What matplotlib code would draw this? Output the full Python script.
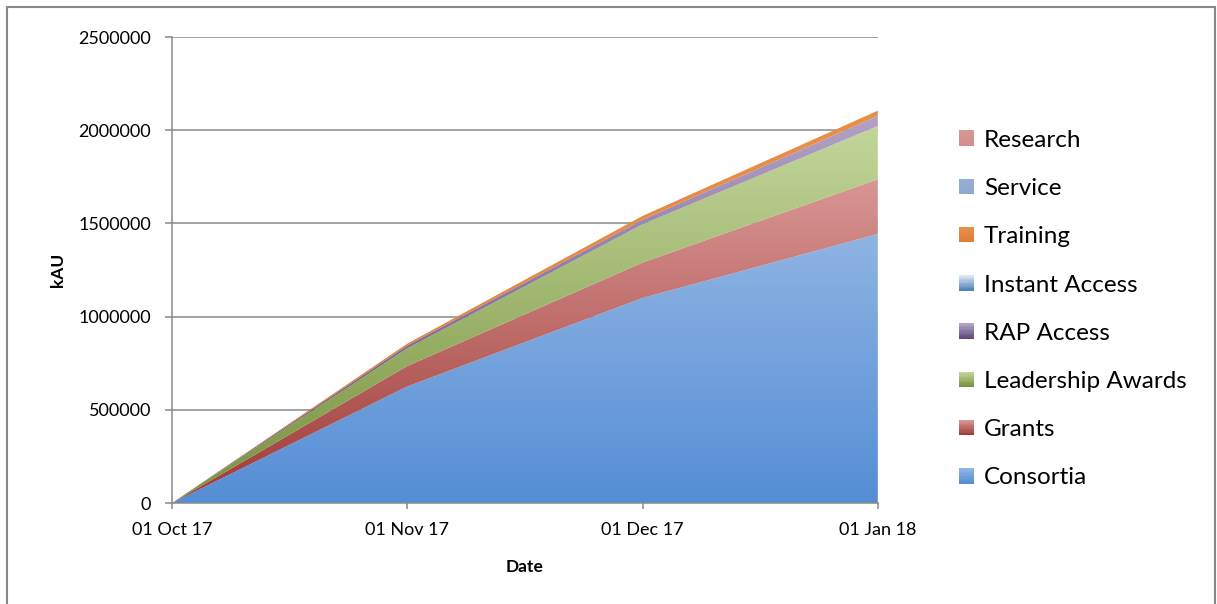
import numpy as np
import matplotlib
matplotlib.use("Agg")
import matplotlib.pyplot as plt
from matplotlib.colors import LinearSegmentedColormap
from matplotlib.legend_handler import HandlerBase
from matplotlib.patches import Rectangle

plt.rcParams["font.family"] = ["Lato", "DejaVu Sans"]

dates = ["01 Oct 17", "01 Nov 17", "01 Dec 17", "01 Jan 18"]

# cumulative kAU used per allocation type (bottom of the stack first)
consortia = [0, 625000, 1100000, 1443000]
grants = [0, 110000, 190000, 294000]
leadership = [0, 95000, 205000, 286000]
rap_access = [0, 15000, 25000, 54000]
instant_access = [0, 0, 0, 0]
training = [0, 10000, 20000, 28000]
service = [0, 0, 0, 0]
research = [0, 0, 0, 0]

series = [
    ("Consortia", consortia, "#8EB4E3", "#558ED5"),
    ("Grants", grants, "#D99694", "#9E3B38"),
    ("Leadership Awards", leadership, "#C3D69B", "#76923C"),
    ("RAP Access", rap_access, "#B3A2C7", "#5F497A"),
    ("Instant Access", instant_access, "#DCE6F2", "#4F81BD"),
    ("Training", training, "#E8904A", "#E07B39"),
    ("Service", service, "#95AED4", "#8FA8D0"),
    ("Research", research, "#D99694", "#D38E8C"),
]


class GradientHandler(HandlerBase):
    def __init__(self, top, bottom):
        super().__init__()
        self.top = top
        self.bottom = bottom

    def create_artists(self, legend, orig_handle, xdescent, ydescent,
                       width, height, fontsize, trans):
        cmap = LinearSegmentedColormap.from_list("h", [self.bottom, self.top])
        n = 12
        size = 11
        x0 = -xdescent + (width - size)
        y0 = -ydescent + (height - size) / 2
        artists = []
        for i in range(n):
            r = Rectangle((x0, y0 + size * i / n), size, size / n + 0.2,
                          facecolor=cmap(i / (n - 1)), edgecolor="none",
                          transform=trans)
            artists.append(r)
        return artists


fig = plt.figure(figsize=(12.17, 6.04), dpi=100)
ax = fig.add_axes([0.1413, 0.1672, 0.58, 0.7715])

x = np.arange(len(dates))
base = np.zeros(len(dates))
handles = []
handler_map = {}
for i, (name, vals, top, bottom) in enumerate(series):
    upper = base + np.array(vals)
    poly = ax.fill_between(x, base, upper, facecolor="none", edgecolor="none")
    if np.any(upper > base):
        cmap = LinearSegmentedColormap.from_list(name, [bottom, top])
        grad = np.linspace(0, 1, 256).reshape(-1, 1)
        im = ax.imshow(grad, cmap=cmap, aspect="auto", origin="lower",
                       extent=[x[0], x[-1], 0, upper.max()], zorder=2 + i * 0.01)
        im.set_clip_path(poly.get_paths()[0], transform=ax.transData)
    h = Rectangle((0, 0), 1, 1, label=name)
    handles.append(h)
    handler_map[h] = GradientHandler(top, bottom)
    base = upper

ax.set_xlim(x[0], x[-1])
ax.set_ylim(0, 2500000)
ax.set_yticks(np.arange(0, 2500001, 500000))
ax.yaxis.set_major_formatter(plt.FuncFormatter(lambda v, p: f"{int(v)}"))
ax.set_xticks(x)
ax.set_xticklabels(dates)

ax.grid(axis="y", color="#898989", linewidth=1.1, zorder=1)
ax.set_axisbelow(True)
for side in ["top", "right"]:
    ax.spines[side].set_visible(False)
for side in ["left", "bottom"]:
    ax.spines[side].set_color("#898989")
    ax.spines[side].set_linewidth(1.1)
    ax.spines[side].set_zorder(5)
ax.tick_params(axis="y", length=5, width=1.1, color="#898989", pad=10, labelsize=13)
ax.tick_params(axis="x", length=4, width=1.1, color="#898989", pad=10, labelsize=13)

ax.set_xlabel("Date", fontweight="bold", fontsize=12.5, labelpad=15)
ax.set_ylabel("kAU", fontweight="bold", fontsize=12.5, labelpad=9)

leg = ax.legend(handles[::-1], [s[0] for s in series][::-1], handler_map=handler_map,
                loc="center left", bbox_to_anchor=(1.111, 0.416), frameon=False,
                fontsize=17.5, labelspacing=1.12, handlelength=0.75, handletextpad=0.4,
                borderaxespad=0, borderpad=0)

fig.patches.append(Rectangle((7 / 1217, -0.1), 1208 / 1217, 1.1 - 7 / 604,
                             transform=fig.transFigure, fill=False,
                             edgecolor="#898989", linewidth=1.5))

fig.savefig("out.png", dpi=100)
